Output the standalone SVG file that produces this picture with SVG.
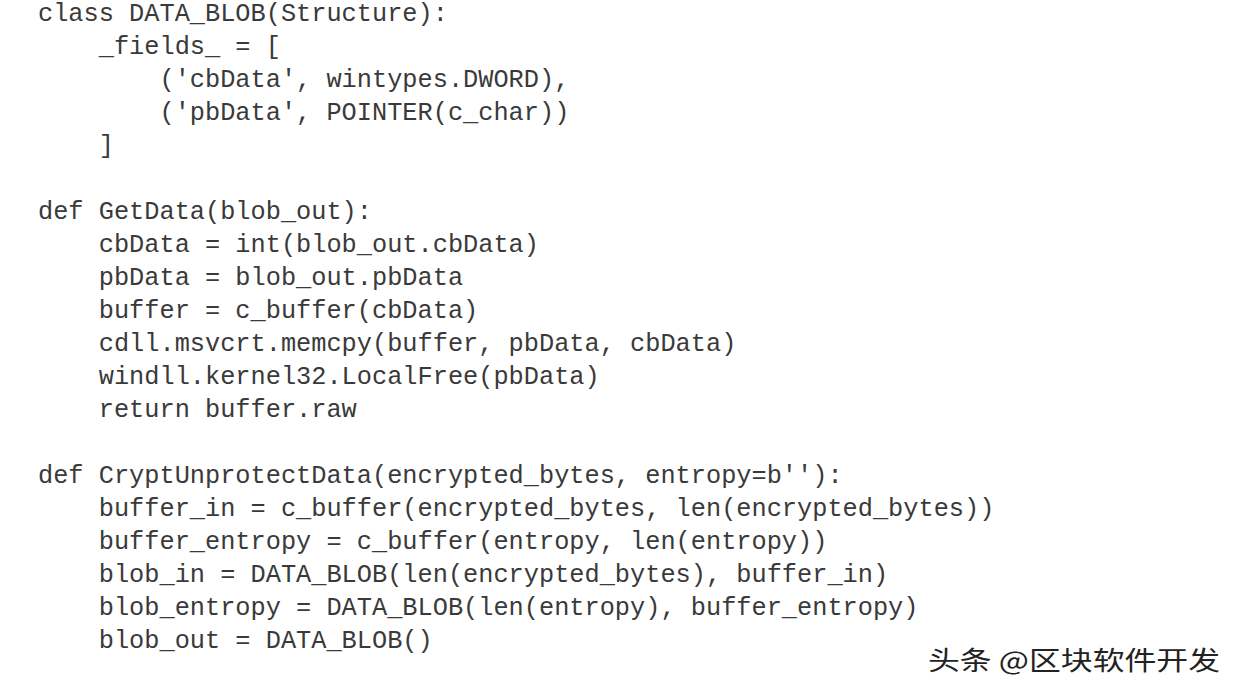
<svg xmlns="http://www.w3.org/2000/svg" width="1241" height="698" viewBox="0 0 1241 698">
<style>
.c{font-family:"Liberation Mono","Courier New",monospace;font-size:25.3px;fill:#3a3a3a}
.w{font-family:"Noto Sans CJK SC",sans-serif;font-size:26px;fill:#222}
</style>
<rect width="1241" height="698" fill="#fff"/>
<g id="code">
<text class="c" x="38" y="21">class DATA_BLOB(Structure):</text>
<text class="c" x="38" y="54" xml:space="preserve">    _fields_ = [</text>
<text class="c" x="38" y="87" xml:space="preserve">        ('cbData', wintypes.DWORD),</text>
<text class="c" x="38" y="120" xml:space="preserve">        ('pbData', POINTER(c_char))</text>
<text class="c" x="38" y="153" xml:space="preserve">    ]</text>
<text class="c" x="38" y="219">def GetData(blob_out):</text>
<text class="c" x="38" y="252" xml:space="preserve">    cbData = int(blob_out.cbData)</text>
<text class="c" x="38" y="285" xml:space="preserve">    pbData = blob_out.pbData</text>
<text class="c" x="38" y="318" xml:space="preserve">    buffer = c_buffer(cbData)</text>
<text class="c" x="38" y="351" xml:space="preserve">    cdll.msvcrt.memcpy(buffer, pbData, cbData)</text>
<text class="c" x="38" y="384" xml:space="preserve">    windll.kernel32.LocalFree(pbData)</text>
<text class="c" x="38" y="417" xml:space="preserve">    return buffer.raw</text>
<text class="c" x="38" y="483">def CryptUnprotectData(encrypted_bytes, entropy=b''):</text>
<text class="c" x="38" y="516" xml:space="preserve">    buffer_in = c_buffer(encrypted_bytes, len(encrypted_bytes))</text>
<text class="c" x="38" y="549" xml:space="preserve">    buffer_entropy = c_buffer(entropy, len(entropy))</text>
<text class="c" x="38" y="582" xml:space="preserve">    blob_in = DATA_BLOB(len(encrypted_bytes), buffer_in)</text>
<text class="c" x="38" y="615" xml:space="preserve">    blob_entropy = DATA_BLOB(len(entropy), buffer_entropy)</text>
<text class="c" x="38" y="648" xml:space="preserve">    blob_out = DATA_BLOB()</text>
</g>
<text class="w" x="928" y="670" textLength="292" lengthAdjust="spacingAndGlyphs">头条 @区块软件开发</text>
</svg>
